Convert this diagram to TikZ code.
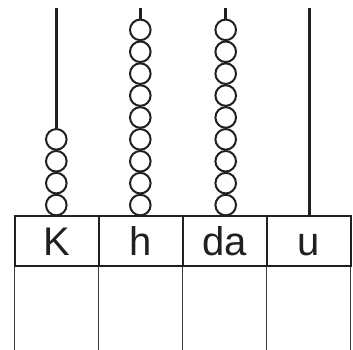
\documentclass[tikz,border=0pt]{standalone}
\usepackage{fontspec}
\setmainfont{Liberation Sans}
\definecolor{ink}{HTML}{231F20}
\definecolor{thin}{HTML}{3A3A3A}
\begin{document}
\begin{tikzpicture}[x=1pt,y=-1pt,
  rod/.style={draw=ink,line width=3pt},
  bead/.style={circle,draw=ink,line width=2pt,minimum size=20.6pt,inner sep=0pt,fill=white},
  hcell/.style={draw=ink,line width=1.8pt,minimum width=84pt,minimum height=50pt,inner sep=0pt},
  lbl/.style={anchor=base,inner sep=0pt,font=\fontsize{40}{40}\selectfont,text=ink},
  lcell/.style={draw=thin,line width=1.3pt,minimum width=84pt,minimum height=86pt,inner sep=0pt}]
\useasboundingbox (0,0) rectangle (353,349);
% table cells
\node[lcell] (lK) at (56.6,309) {};
\node[lcell] (lh) at (140.6,309) {};
\node[lcell] (ld) at (224.6,309) {};
\node[lcell] (lu) at (308.6,309) {};
\node[hcell] (K) at (56.6,241) {};
\node[hcell] (h) at (140.6,241) {};
\node[hcell] (d) at (224.6,241) {};
\node[hcell] (u) at (308.6,241) {};
\node[lbl] (tK1) at (56.6,255.5) {K};
\node[lbl] (th1) at (140.6,255.5) {h};
\node[lbl] (td1) at (225,255.5) {da};
\node[lbl] (tu1) at (309,255.5) {u};
% rod tops
\coordinate (tK) at (56.3,8);
\coordinate (th) at (140.3,8);
\coordinate (td) at (225.7,8);
\coordinate (tu) at (309.7,8);
% K rod: 4 beads
\foreach \i in {1,...,4}{\node[bead] (bK\i) at (56.3,{216-10.95-21.9*(\i-1)}) {};}
\draw[rod] (tK) -- (bK4.north);
% h rod: 9 beads
\foreach \i in {1,...,9}{\node[bead] (bh\i) at (140.3,{216-10.95-21.9*(\i-1)}) {};}
\draw[rod] (th) -- (bh9.north);
% da rod: 9 beads
\foreach \i in {1,...,9}{\node[bead] (bd\i) at (225.7,{216-10.95-21.9*(\i-1)}) {};}
\draw[rod] (td) -- (bd9.north);
% u rod: no beads
\draw[rod] (tu) -- (u.north -| tu);
\end{tikzpicture}
\end{document}
